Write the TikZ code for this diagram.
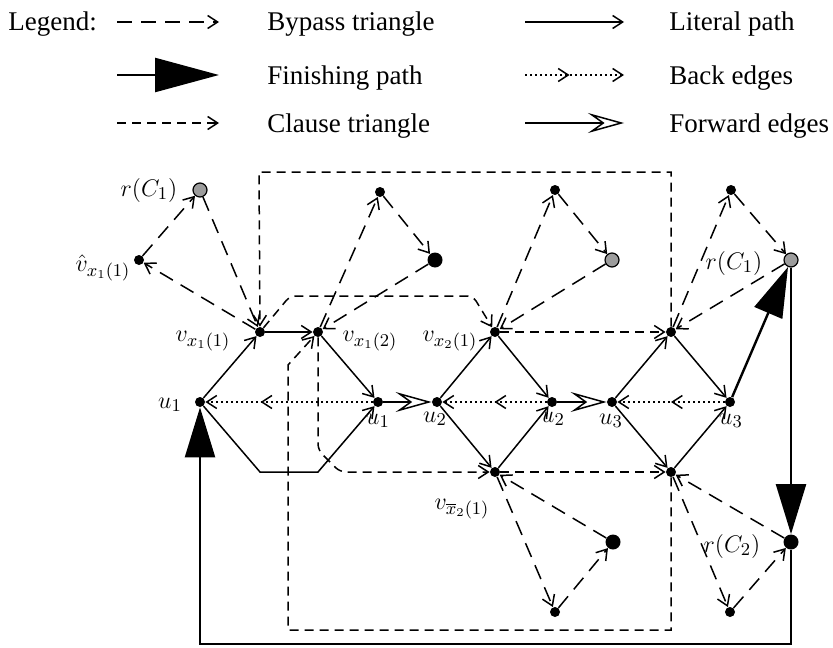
\documentclass[tikz,border=0pt]{standalone}
\usepackage{amsmath,amssymb}
\usepackage[no-math]{fontspec}
\setmainfont{Liberation Serif}
\usepackage{tikz}
\usetikzlibrary{arrows.meta,decorations.markings}
\definecolor{hcInk}{HTML}{000000}
\definecolor{hcShade}{HTML}{9C9C9C}
\tikzset{
  hc diagram/.style={x=0.5pt, y=-0.5pt, text=hcInk},
  hc dot/.style={circle, fill=hcInk, inner sep=0pt, minimum size=5pt},
  hc big dot/.style={hc dot, minimum size=7.5pt},
  hc shaded dot/.style={hc dot, fill=hcShade, draw=hcInk, line width=0.6pt, minimum size=7pt},
  hc label/.style={font=\fontsize{13}{15}\selectfont, inner sep=0pt},
  hc legend/.style={font=\fontsize{13.5}{16}\selectfont, anchor=base west, inner sep=0pt},
  hc literal/.style={-{Straight Barb[length=5pt, width=6.5pt]}, draw=hcInk, line width=0.75pt},
  hc bypass/.style={hc literal, dash pattern=on 7.5pt off 4.5pt},
  hc clause/.style={hc literal, dash pattern=on 4.5pt off 3pt},
  hc forward/.style={-{Stealth[open, length=18pt, width=10pt, inset=7pt]}, draw=hcInk, line width=0.75pt},
  hc finish/.style={-{Triangle[length=25pt, width=15pt]}, draw=hcInk, line width=1.2pt},
  hc back/.style={hc literal, dash pattern=on 1pt off 1.5pt,
    postaction={decorate, decoration={markings,
      mark=at position #1 with {\arrow{Straight Barb[length=5pt, width=6.5pt]}}}}},
  hc back/.default=0.5
}

\begin{document}
\begin{tikzpicture}[hc diagram]
\useasboundingbox (0,0) rectangle (833,647);
% legend
\node[hc legend] (legend) at (8,31) {Legend:};
\node[hc legend] (tbyp) at (267,31) {Bypass triangle};
\node[hc legend] (tfin) at (267,84) {Finishing path};
\node[hc legend] (tcla) at (267,132) {Clause triangle};
\node[hc legend] (tlit) at (669,31) {Literal path};
\node[hc legend] (tback) at (669,84) {Back edges};
\node[hc legend] (tfwd) at (669,132) {Forward edges};
\foreach \k/\y in {byp/22,fin/75,cla/123} {
  \coordinate (\k0) at (117,\y);
  \coordinate (\k1) at (219,\y);
}
\foreach \k/\y in {lit/22,back/75,fwd/123} {
  \coordinate (\k0) at (525,\y);
  \coordinate (\k1) at (624,\y);
}
\draw[hc bypass] (byp0) -- (byp1);
\draw[hc finish, -{Triangle[length=32pt, width=17pt]}] (fin0) -- (fin1);
\draw[hc clause] (cla0) -- (cla1);
\draw[hc literal] (lit0) -- (lit1);
\draw[hc back=0.45] (back0) -- (back1);
\draw[hc forward] (fwd0) -- (fwd1);

% vertices of the literal paths
\node[hc dot] (u1) at (200,402) {};
\node[hc dot] (vx11) at (260,332) {};
\node[hc dot] (vx12) at (318,332) {};
\node[hc dot] (u1r) at (378,402) {};
\node[hc dot] (u2) at (437,402) {};
\node[hc dot] (vx21) at (495,332) {};
\node[hc dot] (vnx21) at (495,472) {};
\node[hc dot] (u2r) at (552,402) {};
\node[hc dot] (u3) at (612,402) {};
\node[hc dot] (vx31) at (671,332) {};
\node[hc dot] (vx32) at (671,472) {};
\node[hc dot] (u3r) at (730,402) {};

% outer vertices of the bypass triangles
\node[hc shaded dot] (rCa) at (200,190) {};
\node[hc dot] (vh) at (139,260) {};
\node[hc dot] (t2a) at (380,192) {};
\node[hc big dot] (t2b) at (435,260) {};
\node[hc dot] (t3a) at (555,190) {};
\node[hc shaded dot] (t3b) at (612,260) {};
\node[hc dot] (t4a) at (731,190) {};
\node[hc shaded dot] (rCb) at (791,260) {};
\node[hc dot] (t5a) at (555,612) {};
\node[hc big dot] (t5b) at (613,542) {};
\node[hc dot] (t6a) at (730,612) {};
\node[hc big dot] (rCc) at (791,542) {};
\coordinate (fbot) at (791,644);

% bypass triangles
\foreach \v/\a/\b in {vx11/vh/rCa,vx12/t2a/t2b,vx21/t3a/t3b,vx31/t4a/rCb,vnx21/t5a/t5b,vx32/t6a/rCc} {
  \draw[hc bypass] (\v) -- (\a);
  \draw[hc bypass] (\a) -- (\b);
  \draw[hc bypass] (\b) -- (\v);
}

% clause triangles
\draw[hc clause, rounded corners=3pt] (vx11) -- (290,296) -- (473,296) -- (vx21);
\draw[hc clause] (vx21) -- (vx31);
\draw[hc clause] (vx31) -- (671,172) -- (259,172) -- (vx11);
\draw[hc clause, rounded corners=3pt] (vx12) -- (318,450) -- (340,472) -- (vnx21);
\draw[hc clause] (vnx21) -- (vx32);
\draw[hc clause] (vx32) -- (671,630) -- (288,630) -- (288,365) -- (vx12);

% literal paths
\foreach \p/\q in {u1/vx11,vx11/vx12,vx12/u1r,u2/vx21,vx21/u2r,u2/vnx21,vnx21/u2r,u3/vx31,vx31/u3r,u3/vx32,vx32/u3r}
  \draw[hc literal] (\p) -- (\q);
\draw[hc literal] (u1) -- (260,472) -- (318,472) -- (u1r);

% forward and back edges
\draw[hc forward] (u1r) -- (u2);
\draw[hc forward] (u2r) -- (u3);
\draw[hc back=0.67] (u1r) -- (u1);
\draw[hc back] (u2r) -- (u2);
\draw[hc back] (u3r) -- (u3);

% finishing path
\draw[hc finish] (u3r) -- (rCb);
\draw[hc finish] (rCb) -- (rCc);
\draw[hc finish] (rCc) -- (fbot) -| (u1);

% labels
\node[hc label] (lrCa) at (149,190) {$r(C_1)$};
\node[hc label] (lvh) at (103,268) {$\hat{v}_{x_1(1)}$};
\node[hc label] (lvx11) at (203,341) {$v_{x_1(1)}$};
\node[hc label] (lvx12) at (370,341) {$v_{x_1(2)}$};
\node[hc label] (lu1) at (170,405) {$u_1$};
\node[hc label] (lu1r) at (378,421) {$u_1$};
\node[hc label] (lvx21) at (450,341) {$v_{x_2(1)}$};
\node[hc label] (lu2) at (435,419) {$u_2$};
\node[hc label] (lu2r) at (553,419) {$u_2$};
\node[hc label] (lu3) at (611,421) {$u_3$};
\node[hc label] (lu3r) at (731,421) {$u_3$};
\node[hc label] (lvnx21) at (462,509) {$v_{\overline{x}_2(1)}$};
\node[hc label] (lrCb) at (734,263) {$r(C_1)$};
\node[hc label] (lrCc) at (732,546) {$r(C_2)$};
\end{tikzpicture}
\end{document}
